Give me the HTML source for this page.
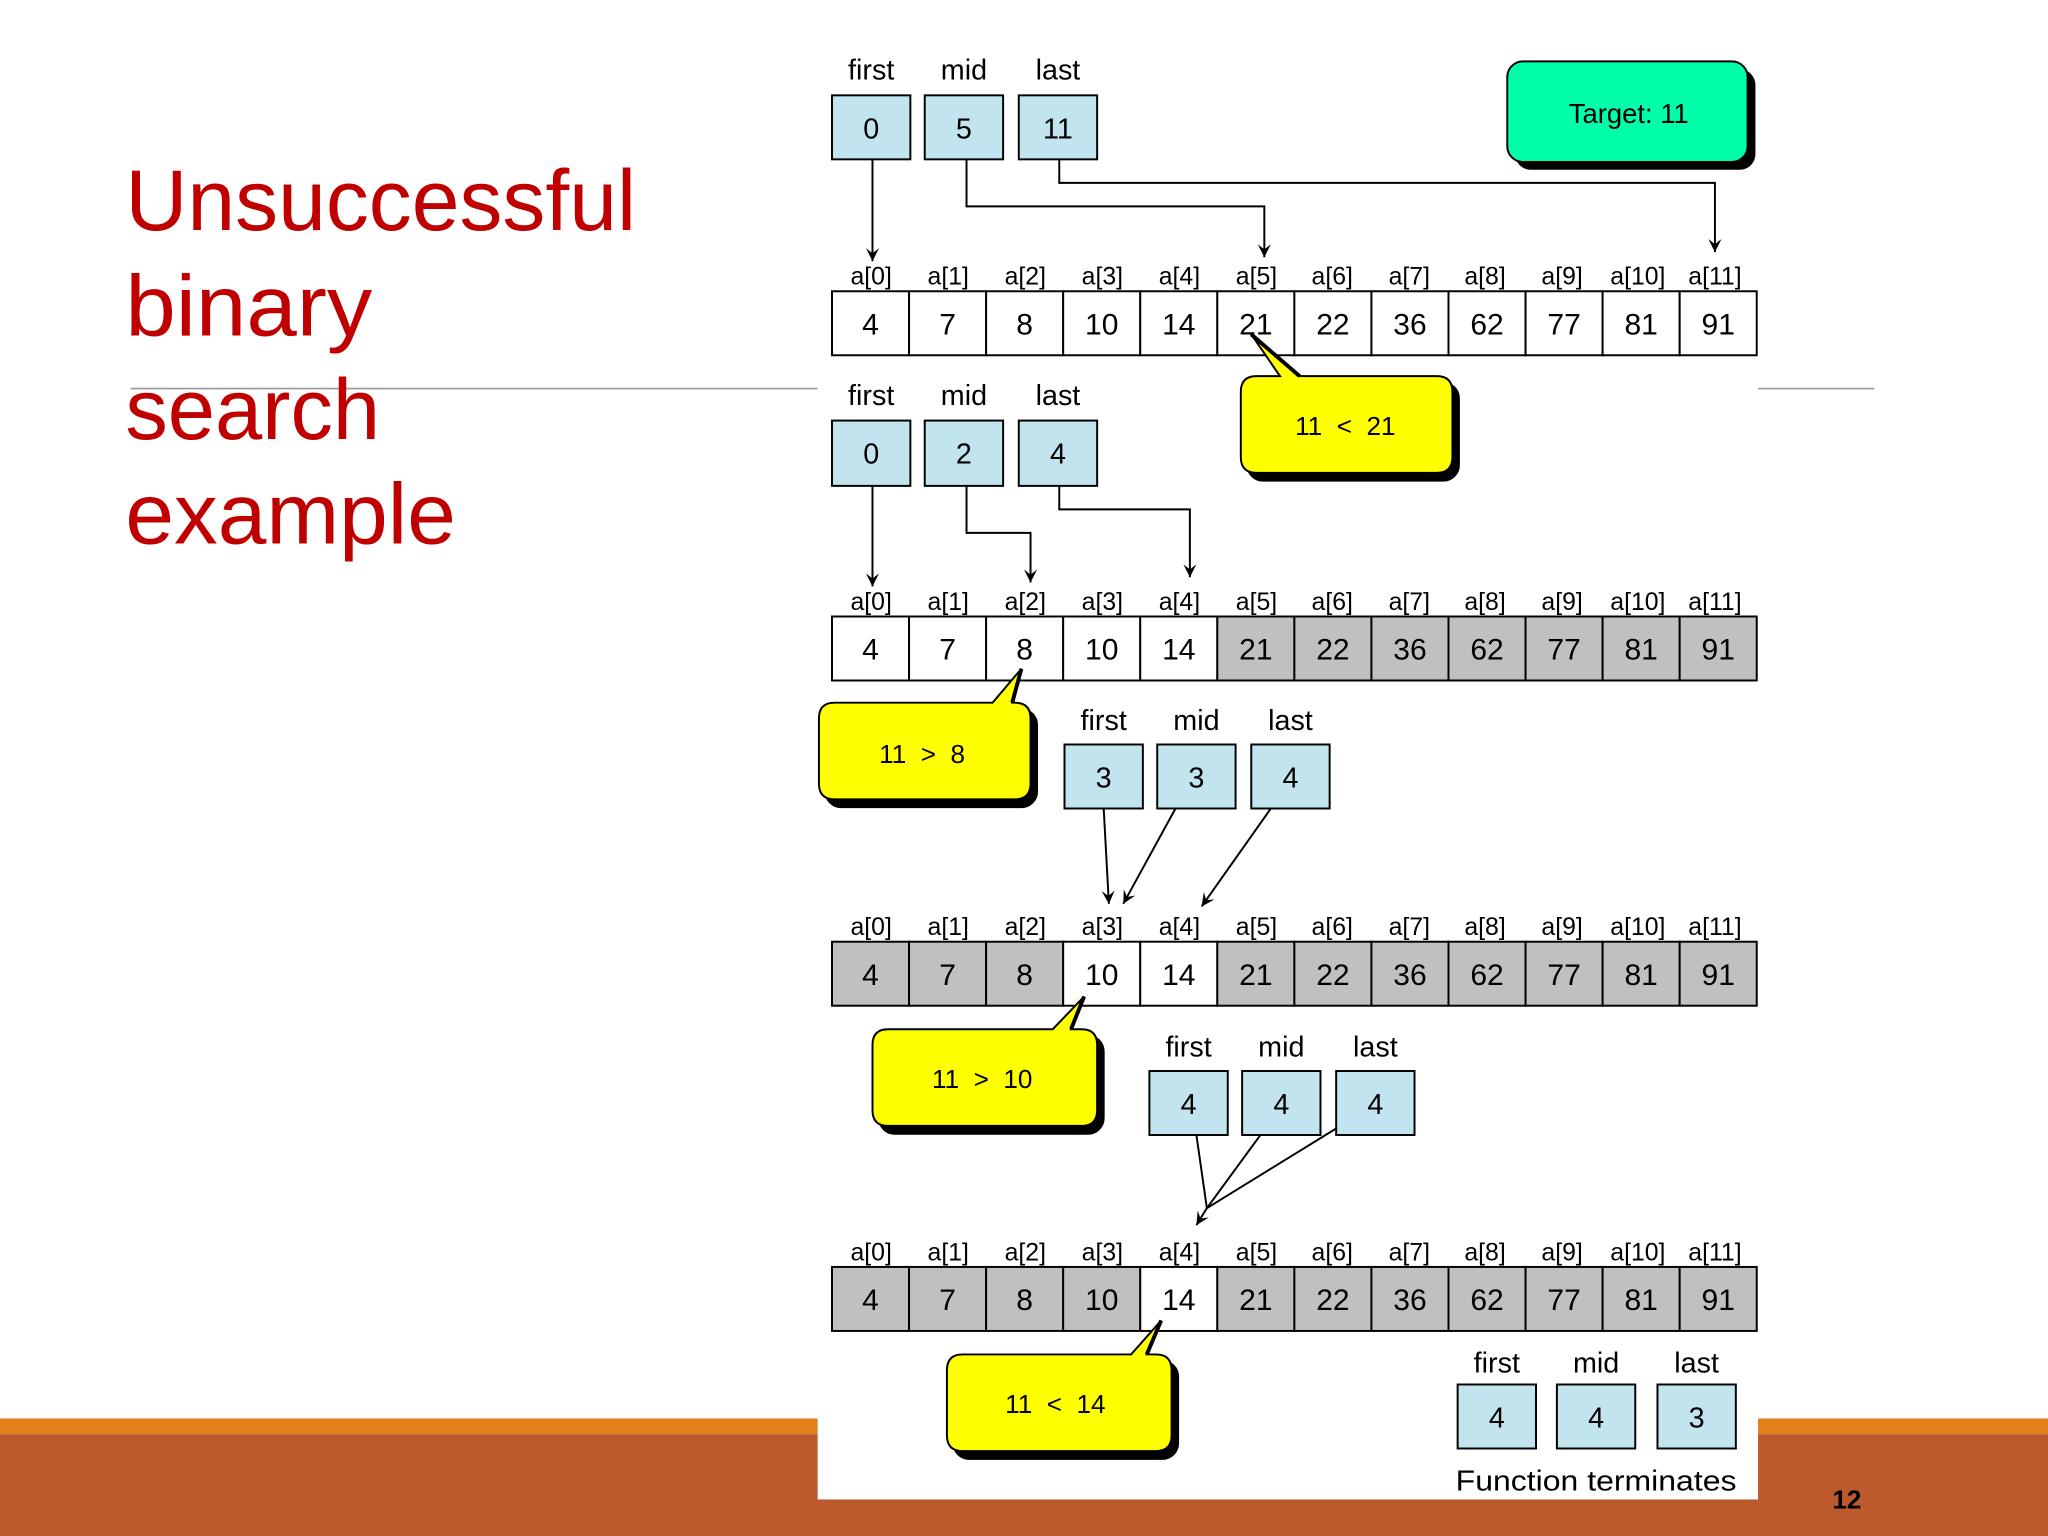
<!DOCTYPE html>
<html><head><meta charset="utf-8"><style>
html,body{margin:0;padding:0;background:#fff;width:2048px;height:1536px;overflow:hidden}
svg{display:block}
text{font-family:"Liberation Sans",Arial,sans-serif}
</style></head><body>
<svg width="2048" height="1536" viewBox="0 0 1568 1176" xmlns="http://www.w3.org/2000/svg">
<defs>
<marker id="ah" markerWidth="12" markerHeight="12" refX="10" refY="6" orient="auto" markerUnits="userSpaceOnUse">
<path d="M0,1 L10,6 L0,11 L4,6 Z" fill="#000"/>
</marker>
</defs>
<rect x="0" y="1086" width="1568" height="12" fill="#E2801C"/>
<rect x="0" y="1098" width="1568" height="78" fill="#BC5A2E"/>
<line x1="100" y1="297.5" x2="626" y2="297.5" stroke="#999" stroke-width="1.2"/>
<line x1="1346" y1="297.5" x2="1435" y2="297.5" stroke="#999" stroke-width="1.2"/>
<g fill="#C00000" font-size="66">
<text x="96" y="176" textLength="391" lengthAdjust="spacingAndGlyphs">Unsuccessful</text>
<text x="96" y="257" textLength="189" lengthAdjust="spacingAndGlyphs">binary</text>
<text x="96" y="336" textLength="195" lengthAdjust="spacingAndGlyphs">search</text>
<text x="96" y="416" textLength="253" lengthAdjust="spacingAndGlyphs">example</text>
</g>
<text x="1414" y="1155" font-size="20" font-weight="bold" text-anchor="middle" fill="#000">12</text>
<rect x="626" y="0" width="720" height="1148" fill="#fff"/>

<rect x="1160" y="53" width="184" height="77" rx="12" fill="#000"/>
<rect x="1154" y="47" width="184" height="77" rx="12" fill="#00FFAA" stroke="#000" stroke-width="1.5"/>
<text x="1247" y="94" font-size="21" text-anchor="middle">Target: 11</text>

<g font-size="24" text-anchor="middle" stroke="#000" stroke-width="1.5">
<g fill="#fff">
<rect x="637" y="223" width="59" height="49"/><rect x="696" y="223" width="59" height="49"/><rect x="755" y="223" width="59" height="49"/><rect x="814" y="223" width="59" height="49"/><rect x="873" y="223" width="59" height="49"/><rect x="932" y="223" width="59" height="49"/><rect x="991" y="223" width="59" height="49"/><rect x="1050" y="223" width="59" height="49"/><rect x="1109" y="223" width="59" height="49"/><rect x="1168" y="223" width="59" height="49"/><rect x="1227" y="223" width="59" height="49"/><rect x="1286" y="223" width="59" height="49"/>
</g>
<g>
<rect x="637" y="472" width="59" height="49" fill="#fff"/><rect x="696" y="472" width="59" height="49" fill="#fff"/><rect x="755" y="472" width="59" height="49" fill="#fff"/><rect x="814" y="472" width="59" height="49" fill="#fff"/><rect x="873" y="472" width="59" height="49" fill="#fff"/><rect x="932" y="472" width="59" height="49" fill="#C0C0C0"/><rect x="991" y="472" width="59" height="49" fill="#C0C0C0"/><rect x="1050" y="472" width="59" height="49" fill="#C0C0C0"/><rect x="1109" y="472" width="59" height="49" fill="#C0C0C0"/><rect x="1168" y="472" width="59" height="49" fill="#C0C0C0"/><rect x="1227" y="472" width="59" height="49" fill="#C0C0C0"/><rect x="1286" y="472" width="59" height="49" fill="#C0C0C0"/>
</g>
<g>
<rect x="637" y="721" width="59" height="49" fill="#C0C0C0"/><rect x="696" y="721" width="59" height="49" fill="#C0C0C0"/><rect x="755" y="721" width="59" height="49" fill="#C0C0C0"/><rect x="814" y="721" width="59" height="49" fill="#fff"/><rect x="873" y="721" width="59" height="49" fill="#fff"/><rect x="932" y="721" width="59" height="49" fill="#C0C0C0"/><rect x="991" y="721" width="59" height="49" fill="#C0C0C0"/><rect x="1050" y="721" width="59" height="49" fill="#C0C0C0"/><rect x="1109" y="721" width="59" height="49" fill="#C0C0C0"/><rect x="1168" y="721" width="59" height="49" fill="#C0C0C0"/><rect x="1227" y="721" width="59" height="49" fill="#C0C0C0"/><rect x="1286" y="721" width="59" height="49" fill="#C0C0C0"/>
</g>
<g>
<rect x="637" y="970" width="59" height="49" fill="#C0C0C0"/><rect x="696" y="970" width="59" height="49" fill="#C0C0C0"/><rect x="755" y="970" width="59" height="49" fill="#C0C0C0"/><rect x="814" y="970" width="59" height="49" fill="#C0C0C0"/><rect x="873" y="970" width="59" height="49" fill="#fff"/><rect x="932" y="970" width="59" height="49" fill="#C0C0C0"/><rect x="991" y="970" width="59" height="49" fill="#C0C0C0"/><rect x="1050" y="970" width="59" height="49" fill="#C0C0C0"/><rect x="1109" y="970" width="59" height="49" fill="#C0C0C0"/><rect x="1168" y="970" width="59" height="49" fill="#C0C0C0"/><rect x="1227" y="970" width="59" height="49" fill="#C0C0C0"/><rect x="1286" y="970" width="59" height="49" fill="#C0C0C0"/>
</g>
<g fill="#C2E4EE">
<rect x="637" y="73" width="60" height="49"/><rect x="708" y="73" width="60" height="49"/><rect x="780" y="73" width="60" height="49"/>
<rect x="637" y="322" width="60" height="50"/><rect x="708" y="322" width="60" height="50"/><rect x="780" y="322" width="60" height="50"/>
<rect x="815" y="570" width="60" height="49"/><rect x="886" y="570" width="60" height="49"/><rect x="958" y="570" width="60" height="49"/>
<rect x="880" y="820" width="60" height="49"/><rect x="951" y="820" width="60" height="49"/><rect x="1023" y="820" width="60" height="49"/>
<rect x="1116" y="1060" width="60" height="49"/><rect x="1192" y="1060" width="60" height="49"/><rect x="1269" y="1060" width="60" height="49"/>
</g>
</g>

<g font-size="23" text-anchor="middle" fill="#000">
<g id="nums">
<text x="666.5" y="256">4</text><text x="725.5" y="256">7</text><text x="784.5" y="256">8</text><text x="843.5" y="256">10</text><text x="902.5" y="256">14</text><text x="961.5" y="256">21</text><text x="1020.5" y="256">22</text><text x="1079.5" y="256">36</text><text x="1138.5" y="256">62</text><text x="1197.5" y="256">77</text><text x="1256.5" y="256">81</text><text x="1315.5" y="256">91</text>
</g>
<use href="#nums" y="249"/><use href="#nums" y="498"/><use href="#nums" y="747"/>
</g>
<g font-size="19" text-anchor="middle" fill="#000">
<g id="idx">
<text x="667" y="218">a[0]</text><text x="726" y="218">a[1]</text><text x="785" y="218">a[2]</text><text x="844" y="218">a[3]</text><text x="903" y="218">a[4]</text><text x="962" y="218">a[5]</text><text x="1020" y="218">a[6]</text><text x="1079" y="218">a[7]</text><text x="1137" y="218">a[8]</text><text x="1196" y="218">a[9]</text><text x="1254" y="218">a[10]</text><text x="1313" y="218">a[11]</text>
</g>
<use href="#idx" y="249"/><use href="#idx" y="498"/><use href="#idx" y="747"/>
</g>

<g font-size="22" text-anchor="middle" fill="#000">
<text x="667" y="61">first</text><text x="738" y="61">mid</text><text x="810" y="61">last</text>
<text x="667" y="106">0</text><text x="738" y="106">5</text><text x="810" y="106">11</text>
<text x="667" y="310">first</text><text x="738" y="310">mid</text><text x="810" y="310">last</text>
<text x="667" y="355">0</text><text x="738" y="355">2</text><text x="810" y="355">4</text>
<text x="845" y="559">first</text><text x="916" y="559">mid</text><text x="988" y="559">last</text>
<text x="845" y="603">3</text><text x="916" y="603">3</text><text x="988" y="603">4</text>
<text x="910" y="809">first</text><text x="981" y="809">mid</text><text x="1053" y="809">last</text>
<text x="910" y="853">4</text><text x="981" y="853">4</text><text x="1053" y="853">4</text>
<text x="1146" y="1051">first</text><text x="1222" y="1051">mid</text><text x="1299" y="1051">last</text>
<text x="1146" y="1093">4</text><text x="1222" y="1093">4</text><text x="1299" y="1093">3</text>
<text x="1222" y="1141" textLength="215" lengthAdjust="spacingAndGlyphs">Function terminates</text>
</g>

<g fill="none" stroke="#000" stroke-width="1.5" marker-end="url(#ah)">
<polyline points="668,122 668,200"/>
<polyline points="740,122 740,158 968,158 968,197"/>
<polyline points="811,122 811,140 1313,140 1313,193"/>
<polyline points="668,372 668,449"/>
<polyline points="740,372 740,408 789,408 789,446"/>
<polyline points="811,372 811,390 911,390 911,442"/>
<line x1="845" y1="619" x2="849" y2="692"/>
<line x1="900" y1="619" x2="860" y2="692"/>
<line x1="973" y1="619" x2="920" y2="694"/>
</g>
<g fill="none" stroke="#000" stroke-width="1.5">
<line x1="916" y1="869" x2="924" y2="925"/>
<line x1="965" y1="869" x2="924" y2="925"/>
<line x1="1023" y1="864" x2="924" y2="925"/>
<line x1="924" y1="925" x2="916" y2="938" marker-end="url(#ah)"/>
</g>

<g stroke="#000" stroke-width="1.5">
<rect x="955" y="293" width="162" height="75" rx="12" fill="#000"/>
<path d="M962,288 L980,288 L958,256 L995,288 L1100,288 Q1112,288 1112,300 L1112,350 Q1112,362 1100,362 L962,362 Q950,362 950,350 L950,300 Q950,288 962,288 Z" fill="#FFFF00"/>
<line x1="958" y1="256" x2="995" y2="288" stroke-width="3"/>
<rect x="632" y="543" width="162" height="75" rx="12" fill="#000"/>
<path d="M639,538 L760,538 L782,512 L775,538 L777,538 Q789,538 789,550 L789,600 Q789,612 777,612 L639,612 Q627,612 627,600 L627,550 Q627,538 639,538 Z" fill="#FFFF00"/>
<line x1="782" y1="512" x2="775" y2="538" stroke-width="3"/>
<rect x="673" y="793" width="172" height="75" rx="12" fill="#000"/>
<path d="M680,788 L806,788 L830,763 L820,788 L828,788 Q840,788 840,800 L840,850 Q840,862 828,862 L680,862 Q668,862 668,850 L668,800 Q668,788 680,788 Z" fill="#FFFF00"/>
<line x1="830" y1="763" x2="820" y2="788" stroke-width="3"/>
<rect x="730" y="1042" width="172" height="75" rx="12" fill="#000"/>
<path d="M737,1037 L866,1037 L889,1011 L878,1037 L885,1037 Q897,1037 897,1049 L897,1099 Q897,1111 885,1111 L737,1111 Q725,1111 725,1099 L725,1049 Q725,1037 737,1037 Z" fill="#FFFF00"/>
<line x1="889" y1="1011" x2="878" y2="1037" stroke-width="3"/>
</g>
<g font-size="20" text-anchor="middle" fill="#000">
<text x="1030" y="333">11&#160;&#160;&lt;&#160;&#160;21</text>
<text x="706" y="584">11&#160;&#160;&gt;&#160;&#160;8</text>
<text x="752" y="833">11&#160;&#160;&gt;&#160;&#160;10</text>
<text x="808" y="1082">11&#160;&#160;&lt;&#160;&#160;14</text>
</g>
</svg>
</body></html>
